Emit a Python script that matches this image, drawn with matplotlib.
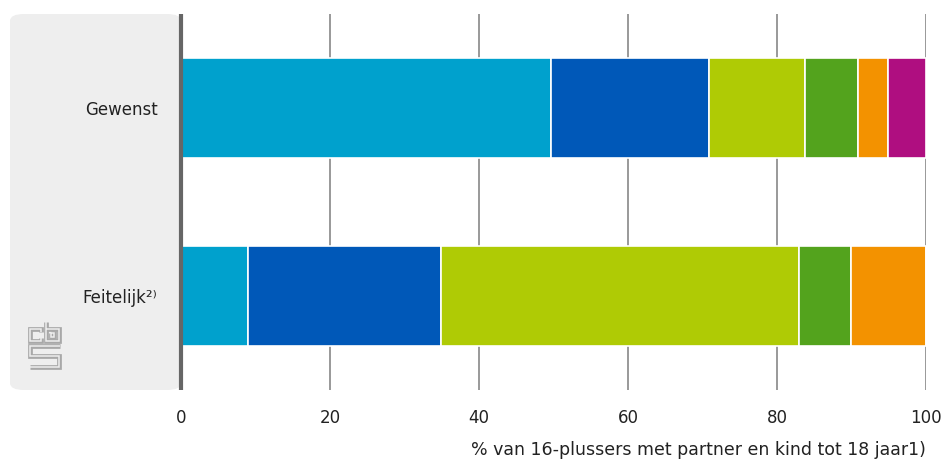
import numpy as np
import matplotlib.pyplot as plt
from matplotlib.patches import FancyBboxPatch
from matplotlib.lines import Line2D

plt.rcParams['font.family'] = ['DejaVu Sans']

# data
categories = ["Gewenst", "Feitelijk²⁾"]
segments = [
    [49.7, 9.0],
    [21.2, 25.9],
    [12.9, 48.1],
    [7.1, 6.9],
    [4.0, 10.1],
    [5.1, 0.0],
]
colors = ["#00A1CD", "#0058B8", "#AFCB05", "#53A31D", "#F39200", "#AF0E80"]
xticks = [0, 20, 40, 60, 80, 100]
xlabel = "% van 16-plussers met partner en kind tot 18 jaar1)"

fig = plt.figure(figsize=(9.45, 4.61), dpi=100)

# grey panel behind the category labels
panel = FancyBboxPatch((10 / 945, 71 / 461), 171 / 945, 376 / 461,
                       boxstyle="round,pad=0,rounding_size=0.015",
                       transform=fig.transFigure, facecolor="#EEEEEE",
                       edgecolor="none", zorder=-1)
fig.patches.append(panel)

ax = fig.add_axes([181 / 945, 71 / 461, 745 / 945, 376 / 461])
ax.set_facecolor("none")

y = np.arange(len(categories))
left = np.zeros(len(categories))
for vals, c in zip(segments, colors):
    vals = np.array(vals)
    ax.barh(y, vals, left=left, height=0.53, color=c,
            edgecolor="white", linewidth=1.2, zorder=3)
    left += vals

ax.set_xlim(0, 100)
ax.set_ylim(1.5, -0.5)
ax.set_xticks(xticks)
ax.set_xticklabels([str(t) for t in xticks], fontsize=12, color="#222222")
ax.set_yticks(y)
ax.set_yticklabels(categories, fontsize=12, color="#222222")
ax.tick_params(axis="both", length=0)
ax.tick_params(axis="y", pad=17)
ax.tick_params(axis="x", pad=14)

ax.grid(axis="x", color="#888888", linewidth=1.2, zorder=1)
ax.set_axisbelow(True)
for s in ["top", "right", "bottom"]:
    ax.spines[s].set_visible(False)
ax.spines["left"].set_color("#666666")
ax.spines["left"].set_linewidth(3)
ax.spines["left"].set_capstyle("butt")
ax.spines["left"].set_zorder(4)

ax.set_xlabel(xlabel, fontsize=12.5, color="#222222", loc="right", labelpad=10)

# simple cbs logo (outlined strokes)
def fx(px):
    return px / 945
def fy(py):
    return 1 - py / 461
logo = [
    [(41, 332), (41, 329), (30, 329), (30, 341), (41, 341), (41, 338)],
    [(46, 322), (46, 341), (59, 341), (59, 329), (46, 329)],
    [(51, 333), (54, 333), (54, 337), (51, 337), (51, 333)],
    [(60, 346), (30, 346), (30, 356), (59, 356), (59, 367), (30, 367)],
]
for lw, lc in [(3.4, "#A8A8A8"), (1.1, "#EEEEEE")]:
    for pts in logo:
        xs = [fx(p[0]) for p in pts]
        ys = [fy(p[1]) for p in pts]
        fig.add_artist(Line2D(xs, ys, color=lc, linewidth=lw,
                              solid_joinstyle="miter", solid_capstyle="butt",
                              transform=fig.transFigure))

fig.savefig("out.png", dpi=100)
